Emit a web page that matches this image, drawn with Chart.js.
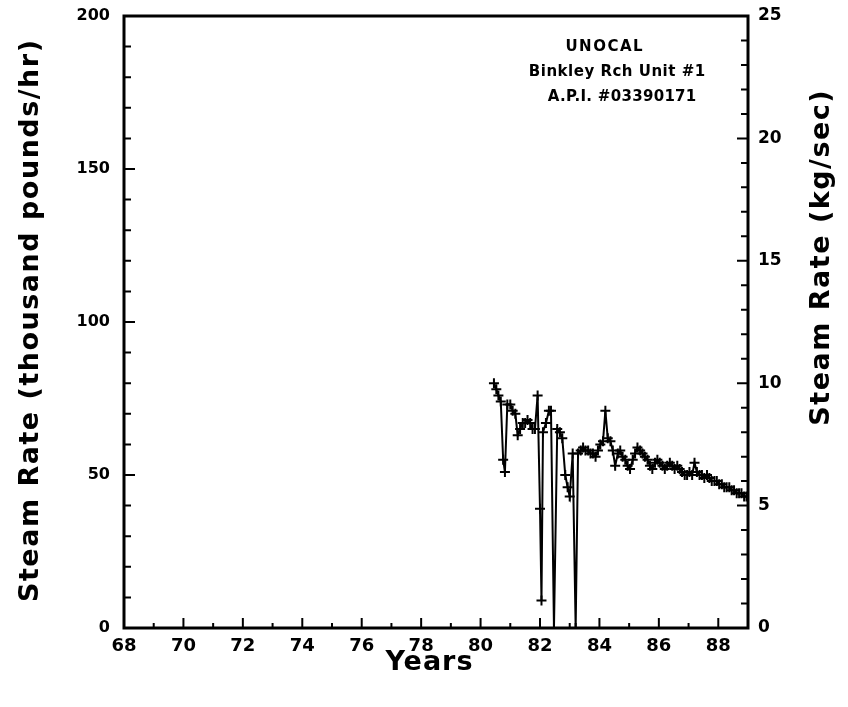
<!DOCTYPE html>
<html>
<head>
<meta charset="utf-8">
<script src="https://cdn.jsdelivr.net/npm/chart.js@4"></script>
<style>
  html, body { margin: 0; padding: 0; background: #fff; }
  #wrap { width: 848px; height: 707px; position: relative; }
</style>
</head>
<body>
<div id="wrap"><canvas id="chart" width="848" height="707"></canvas></div>
<script>
// Steam rate, UNOCAL Binkley Rch Unit #1
const years = [
  80.45, 80.53, 80.6, 80.68, 80.76, 80.82, 80.9, 81.0, 81.08, 81.17,
  81.25, 81.33, 81.42, 81.5, 81.58, 81.67, 81.75, 81.83, 81.92, 82.0,
  82.05, 82.1, 82.2, 82.3, 82.37, 82.47, 82.58, 82.67, 82.75, 82.85,
  82.93, 83.0, 83.1, 83.2, 83.28, 83.37, 83.45, 83.53, 83.62, 83.7,
  83.78, 83.87, 83.95, 84.03, 84.12, 84.2, 84.28, 84.37, 84.45, 84.53,
  84.62, 84.7, 84.78, 84.87, 84.95, 85.03, 85.12, 85.2, 85.28, 85.37,
  85.45, 85.53, 85.62, 85.7, 85.78, 85.87, 85.95, 86.03, 86.12, 86.2,
  86.28, 86.37, 86.45, 86.53, 86.62, 86.7, 86.78, 86.87, 86.95, 87.03,
  87.12, 87.2, 87.28, 87.37, 87.45, 87.53, 87.62, 87.7, 87.78, 87.87,
  87.95, 88.03, 88.12, 88.2, 88.28, 88.37, 88.45, 88.53, 88.62, 88.7,
  88.78, 88.87, 88.95
];
const steamRate = [
  80, 78, 76, 74, 55, 51, 73, 73, 71, 70,
  63, 65, 67, 67, 68, 67, 65, 65, 76, 39,
  9, 64, 67, 71, 71, 0, 65, 64, 62, 50,
  46, 43, 57, 0, 57, 58, 59, 58, 58, 57,
  57, 56, 58, 60, 61, 71, 62, 61, 58, 53,
  57, 58, 56, 55, 53, 52, 55, 57, 59, 58,
  57, 56, 55, 53, 52, 54, 55, 54, 53, 52,
  53, 54, 53, 52, 53, 52, 51, 50, 50, 51,
  50, 54, 51, 50, 50, 49, 50, 49, 48, 48,
  48, 47, 47, 46, 46, 46, 45, 45, 44, 44,
  44, 43, 43
];
const xTicks = [68, 70, 72, 74, 76, 78, 80, 82, 84, 86, 88];
const leftTicks = [0, 50, 100, 150, 200];
const rightTicks = [0, 5, 10, 15, 20, 25];
const noteLines = ['UNOCAL', 'Binkley Rch Unit #1', 'A.P.I. #03390171'];

const INK = '#000';
const FAM = '"DejaVu Sans"';

// text drawn centred at (x, y), with extra letter spacing
function spacedText(ctx, text, x, y, sp, rot) {
  ctx.save();
  ctx.translate(x, y);
  if (rot) ctx.rotate(rot);
  ctx.letterSpacing = sp + 'px';
  const w = ctx.measureText(text).width - sp;
  ctx.textAlign = 'left';
  ctx.textBaseline = 'middle';
  ctx.fillText(text, -w / 2, 0);
  ctx.restore();
}

// inward ticks + frame + titles + note text
const framePlugin = {
  id: 'frame',
  afterDraw(chart) {
    const { ctx, chartArea: a, scales } = chart;
    ctx.save();
    ctx.strokeStyle = INK;
    ctx.lineWidth = 3;
    ctx.strokeRect(a.left, a.top, a.right - a.left, a.bottom - a.top);
    ctx.lineWidth = 2;
    ctx.beginPath();
    for (let v = 68; v <= 89; v++) {
      const x = scales.x.getPixelForValue(v);
      const len = v % 2 === 0 ? 10 : 5;
      ctx.moveTo(x, a.bottom); ctx.lineTo(x, a.bottom - len);
    }
    for (let v = 0; v <= 200; v += 10) {
      const y = scales.y.getPixelForValue(v);
      const len = v % 50 === 0 ? 11 : 7;
      ctx.moveTo(a.left, y); ctx.lineTo(a.left + len, y);
    }
    for (let v = 0; v <= 25; v++) {
      const y = scales.y2.getPixelForValue(v);
      const len = v % 5 === 0 ? 11 : 7;
      ctx.moveTo(a.right, y); ctx.lineTo(a.right - len, y);
    }
    ctx.stroke();

    ctx.fillStyle = INK;
    ctx.font = 'bold 27px ' + FAM;
    spacedText(ctx, 'Steam Rate (thousand pounds/hr)', 31, 321, 1.5, -Math.PI / 2);
    spacedText(ctx, 'Steam Rate (kg/sec)', 822, 258, 1.5, -Math.PI / 2);
    spacedText(ctx, 'Years', 429, 663, 1, 0);

    ctx.font = 'bold 15px ' + FAM;
    spacedText(ctx, noteLines[0], 604, 47, 1.5, 0);
    spacedText(ctx, noteLines[1], 617, 72, 0.5, 0);
    spacedText(ctx, noteLines[2], 622, 97, 0.3, 0);
    ctx.restore();
  }
};

const tickFont = size => ({ family: FAM, size, weight: 'bold' });
// let the plot reach up near the top edge, as in the original
const tightTop = s => { s.paddingTop = 0; };

new Chart(document.getElementById('chart'), {
  type: 'line',
  data: {
    datasets: [{
      data: years.map((x, i) => ({ x, y: steamRate[i] })),
      borderColor: INK,
      borderWidth: 2,
      pointStyle: 'cross',
      pointRadius: 5,
      pointBorderWidth: 2,
      pointBorderColor: INK,
      tension: 0,
      yAxisID: 'y'
    }]
  },
  options: {
    responsive: false,
    animation: false,
    layout: { padding: { top: 16, left: 0, right: 0, bottom: 0 } },
    plugins: { legend: { display: false }, tooltip: { enabled: false } },
    scales: {
      x: {
        type: 'linear', min: 68, max: 89,
        afterBuildTicks: s => { s.ticks = xTicks.map(value => ({ value })); },
        afterFit: s => { s.height = 79; },
        grid: { display: false, drawTicks: false },
        border: { display: false },
        ticks: { color: INK, padding: 8, maxRotation: 0, font: tickFont(18) }
      },
      y: {
        type: 'linear', position: 'left', min: 0, max: 200,
        afterBuildTicks: s => { s.ticks = leftTicks.map(value => ({ value })); },
        afterFit: s => { s.width = 124; tightTop(s); },
        grid: { display: false, drawTicks: false },
        border: { display: false },
        ticks: { color: INK, padding: 14, font: tickFont(16) }
      },
      y2: {
        type: 'linear', position: 'right', min: 0, max: 25,
        afterBuildTicks: s => { s.ticks = rightTicks.map(value => ({ value })); },
        afterFit: s => { s.width = 100; tightTop(s); },
        grid: { display: false, drawTicks: false },
        border: { display: false },
        ticks: { color: INK, padding: 10, font: tickFont(17) }
      }
    }
  },
  plugins: [framePlugin]
});
</script>
</body>
</html>
